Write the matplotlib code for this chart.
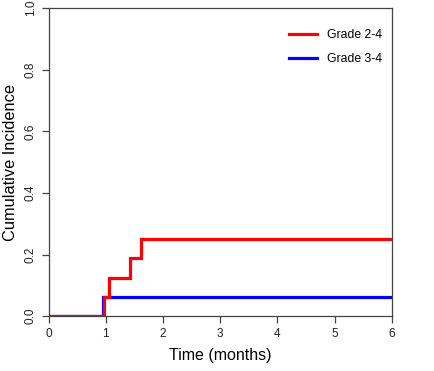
import matplotlib
matplotlib.use("Agg")
import matplotlib.pyplot as plt

plt.rcParams['font.family'] = ['Liberation Sans', 'DejaVu Sans']

# data
red_times = [0, 0.97, 1.05, 1.42, 1.62, 6]
red_vals = [0, 0.0625, 0.125, 0.1875, 0.25, 0.25]
blue_times = [0, 0.95, 6]
blue_vals = [0, 0.0625, 0.0625]
labels = ["Grade 2-4", "Grade 3-4"]
xticks = [0, 1, 2, 3, 4, 5, 6]
yticks = [0.0, 0.2, 0.4, 0.6, 0.8, 1.0]

fig = plt.figure(figsize=(4.34, 3.71), dpi=100)
ax = fig.add_axes([0.112, 0.148, 0.791, 0.830])
ax.step(blue_times, blue_vals, where='post', color='#0000ff', lw=2.3, label=labels[1], solid_joinstyle='miter')
ax.step(red_times, red_vals, where='post', color='#ff0000', lw=2.3, label=labels[0], solid_joinstyle='miter')
ax.set_xlim(0, 6)
ax.set_ylim(0, 1)
ax.set_xticks(xticks)
ax.set_yticks(yticks)
ax.set_xticklabels([str(t) for t in xticks], fontsize=8.5)
ax.set_yticklabels([f"{t:.1f}" for t in yticks], fontsize=8.5, rotation=90, va='center')
for s in ax.spines.values():
    s.set_color('#444444')
    s.set_linewidth(0.9)
ax.tick_params(direction='out', length=5, width=0.9, color='#444444', labelcolor='#222222', pad=3.5)
ax.set_xlabel("Time (months)", fontsize=11.5, labelpad=6)
ax.set_ylabel("Cumulative Incidence", fontsize=11.8, labelpad=5)
h, l = ax.get_legend_handles_labels()
ax.legend(h[::-1], l[::-1], loc='upper right', bbox_to_anchor=(1.01, 0.975), frameon=False,
          fontsize=8.8, handlelength=2.3, handletextpad=0.8, labelspacing=0.95, borderaxespad=0.7)
fig.savefig("out.png", dpi=100)
